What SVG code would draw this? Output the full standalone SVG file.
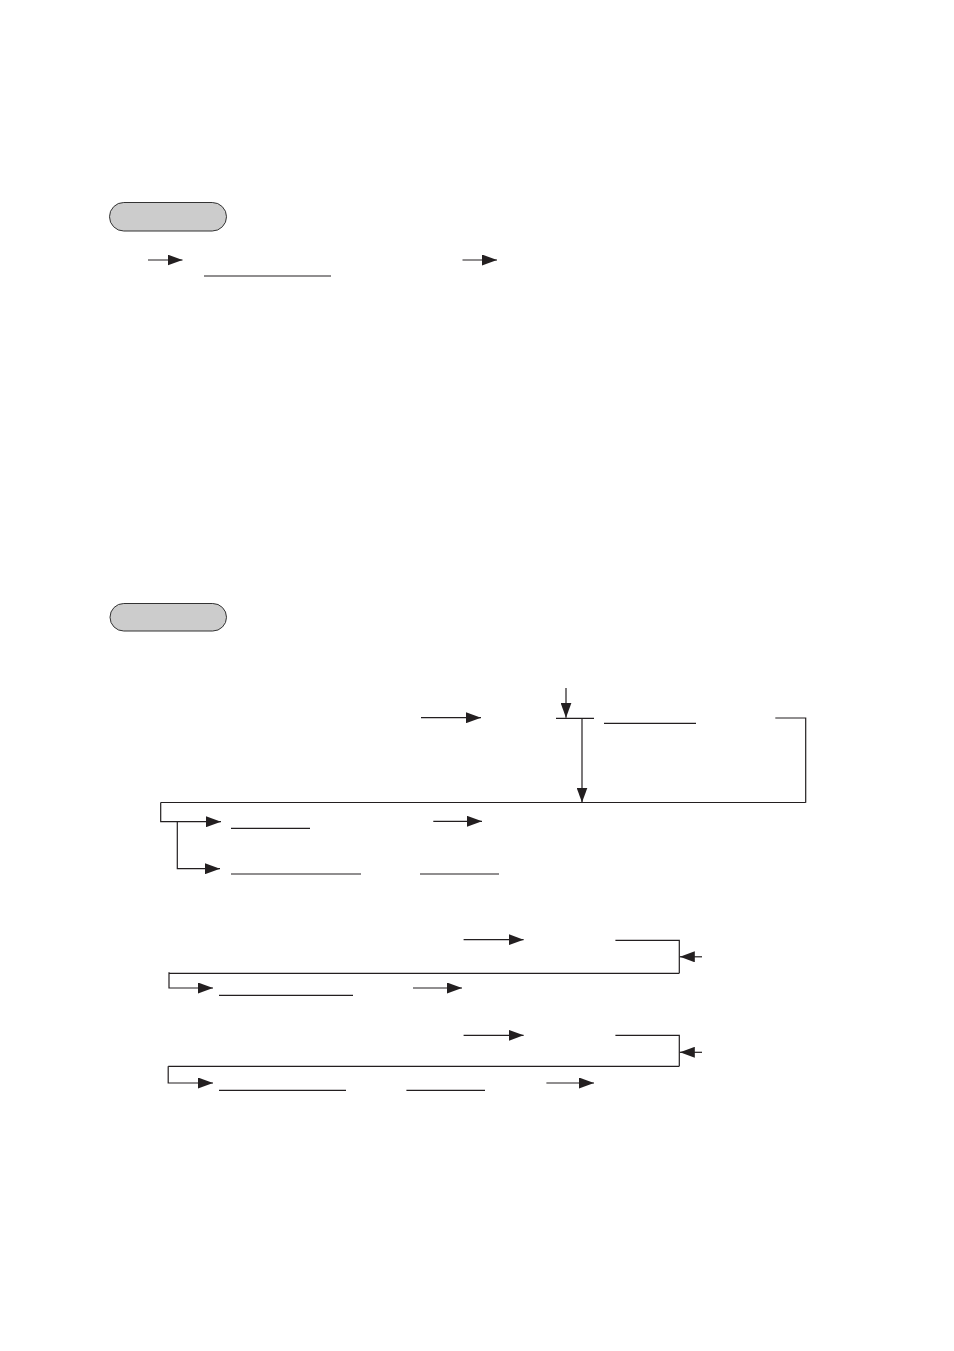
<svg xmlns="http://www.w3.org/2000/svg" width="954" height="1351" viewBox="0 0 954 1351">
<defs>
<marker id="ah" markerWidth="15" markerHeight="11" refX="15" refY="5.5" orient="auto" markerUnits="userSpaceOnUse">
<path d="M0,0 L15,5.5 L0,11 Z" fill="#231f20"/>
</marker>
</defs>
<style>
.ln{fill:none;stroke:#231f20;stroke-width:1.2}
.ar{fill:none;stroke:#231f20;stroke-width:1.2;marker-end:url(#ah)}
.pill{fill:#cccccc;stroke:#333333;stroke-width:1}
</style>
<rect width="954" height="1351" fill="#ffffff"/>
<g id="pill1"><rect class="pill" x="109.5" y="202.5" width="117" height="28.5" rx="14.25"/></g>
<g id="pill2"><rect class="pill" x="110" y="603.5" width="116.5" height="27.5" rx="13.75"/></g>
<g id="underlines">
<line class="ln" x1="204" y1="276" x2="331" y2="276"/>
<line class="ln" x1="604" y1="723.3" x2="696" y2="723.3"/>
<line class="ln" x1="231" y1="828.3" x2="310" y2="828.3"/>
<line class="ln" x1="231" y1="874" x2="361" y2="874"/>
<line class="ln" x1="420" y1="874" x2="499" y2="874"/>
<line class="ln" x1="219" y1="995.3" x2="353" y2="995.3"/>
<line class="ln" x1="219" y1="1090.3" x2="346" y2="1090.3"/>
<line class="ln" x1="406.4" y1="1090.3" x2="485" y2="1090.3"/>
</g>
<g id="connectors">
<line class="ar" x1="148" y1="260" x2="182.5" y2="260"/>
<line class="ar" x1="462.5" y1="260" x2="497" y2="260"/>
<line class="ar" x1="421" y1="717.7" x2="481" y2="717.7"/>
<line class="ar" x1="566" y1="688" x2="566" y2="717.7"/>
<line class="ln" x1="556" y1="718.3" x2="594" y2="718.3"/>
<line class="ar" x1="582" y1="718.3" x2="582" y2="802.5"/>
<polyline class="ln" points="775.3,718 805.7,718 805.7,802.7"/>
<line class="ln" x1="160.7" y1="802.5" x2="805.7" y2="802.5"/>
<polyline class="ar" points="160.7,802.5 160.7,821.7 221,821.7"/>
<polyline class="ar" points="177.3,821.7 177.3,868.7 220,868.7"/>
<line class="ar" x1="433.3" y1="821.3" x2="482" y2="821.3"/>
<line class="ar" x1="463.6" y1="939.7" x2="523.6" y2="939.7"/>
<polyline class="ln" points="615.4,940.3 679.3,940.3 679.3,973.3"/>
<line class="ar" x1="702" y1="956.8" x2="679.8" y2="956.8"/>
<line class="ln" x1="169" y1="973.3" x2="679.3" y2="973.3"/>
<polyline class="ar" points="169,972.3 169,988 213,988"/>
<line class="ar" x1="413" y1="988" x2="462" y2="988"/>
<line class="ar" x1="463.6" y1="1035.3" x2="523.6" y2="1035.3"/>
<polyline class="ln" points="615.4,1035.3 679.3,1035.3 679.3,1066.3"/>
<line class="ar" x1="702" y1="1052.3" x2="679.8" y2="1052.3"/>
<line class="ln" x1="168.2" y1="1066.3" x2="679.3" y2="1066.3"/>
<polyline class="ar" points="168.2,1066.3 168.2,1083 213,1083"/>
<line class="ar" x1="546.4" y1="1083" x2="594" y2="1083"/>
</g>
</svg>
